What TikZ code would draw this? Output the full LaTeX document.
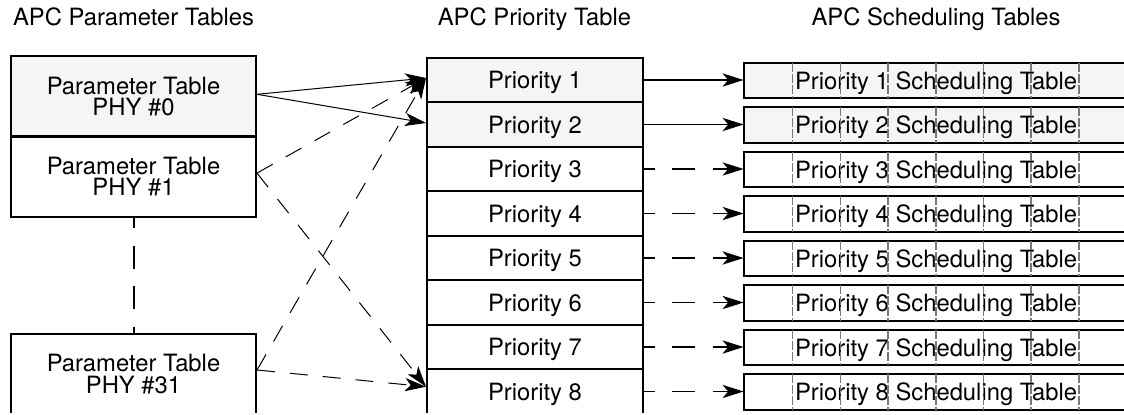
\documentclass[tikz,border=0pt]{standalone}
\usepackage{fontspec}
\setmainfont{TeX Gyre Heros}
\usetikzlibrary{arrows.meta,positioning}
\definecolor{TableGray}{RGB}{245,245,245}
\definecolor{ColGray}{RGB}{120,120,120}

\begin{document}
\begin{tikzpicture}[x=0.5pt,y=0.5pt,>={Stealth[length=10.5pt,width=6.6pt,inset=2.8pt]},
    font=\fontsize{11.9}{10.7}\selectfont,
    cell/.style={draw,line width=1pt,inner sep=0pt},
    phybox/.style={cell,minimum width=122.5pt,minimum height=40.3pt,align=center},
    prio/.style={cell,minimum width=108pt,minimum height=22.25pt,text height=8.5pt,text depth=0pt},
    sched/.style={inner sep=0pt,minimum width=192pt,minimum height=17.2pt,text height=8.5pt,text depth=0pt},
    colline/.style={ColGray,line width=0.75pt,dash pattern=on 4.5pt off 1pt},
    link/.style={line width=0.85pt},
    dashlink/.style={link,dash pattern=on 11.4pt off 8.8pt,dash phase=6pt},
    fanline/.style={line width=0.5pt},
    fandash/.style={fanline,dash pattern=on 9pt off 7.5pt}]
  \useasboundingbox (0,0) rectangle (1124,414);
  \clip (0,1.5) rectangle (1124,414);
  % column titles
  \node[anchor=base] (ttlparam) at (133.5,389) {APC Parameter Tables};
  \node[anchor=base] (ttlprio) at (534.5,389) {APC Priority Table};
  \node[anchor=base] (ttlsched) at (936,389) {APC Scheduling Tables};
  % parameter tables
  \node[phybox,fill=TableGray] (phy0) at (133.5,317.7) {Parameter Table\\PHY \#0};
  \node[phybox] (phy1) at (133.5,237.7) {Parameter Table\\PHY \#1};
  \node[phybox] (phy31) at (133.5,40) {Parameter Table\\PHY \#31};
  \draw[dashlink,line width=1pt] (phy1) -- (phy31);
  % priority rows and scheduling tables
  \foreach \i/\shade in {1/TableGray,2/TableGray,3/white,4/white,5/white,6/white,7/white,8/white}{
    \node[prio,fill=\shade] (p\i) at (535,{334-(\i-1)*44.5}) {Priority \i};
    \node[sched,fill=\shade] (s\i) at (936,{333.5-(\i-1)*44.5}) {Priority \i\ Scheduling Table};
    \draw[line width=1pt] (s\i.north east) -- (s\i.north west) -- (s\i.south west) -- (s\i.south east);
    \foreach \c in {0,...,6}{
      \pgfmathsetmacro\cx{792.7+\c*47.7}
      \draw[colline] (\cx,0 |- s\i.north) -- (\cx,0 |- s\i.south);
    }
  }
  \foreach \i in {1,2} \draw[->,link] (p\i.east) -- (p\i.east -| s\i.west);
  \foreach \i in {3,...,8} \draw[->,dashlink] (p\i.east) -- (p\i.east -| s\i.west);
  % PHY to priority
  \draw[->,fanline] ([yshift=1pt]phy0.east) -- ([yshift=1pt]p1.west);
  \draw[->,fanline] ([yshift=1pt]phy0.east) -- ([yshift=0.75pt]p2.west);
  \draw[->,fandash] ([yshift=1.6pt]phy1.east) -- ([yshift=1pt]p1.west);
  \draw[->,fandash] ([yshift=1.6pt]phy1.east) -- ([yshift=2.4pt]p8.west);
  \draw[->,fandash] ([yshift=2pt]phy31.east) -- ([yshift=1pt]p1.west);
  \draw[->,fandash] ([yshift=2pt]phy31.east) -- ([yshift=2.4pt]p8.west);
\end{tikzpicture}
\end{document}
